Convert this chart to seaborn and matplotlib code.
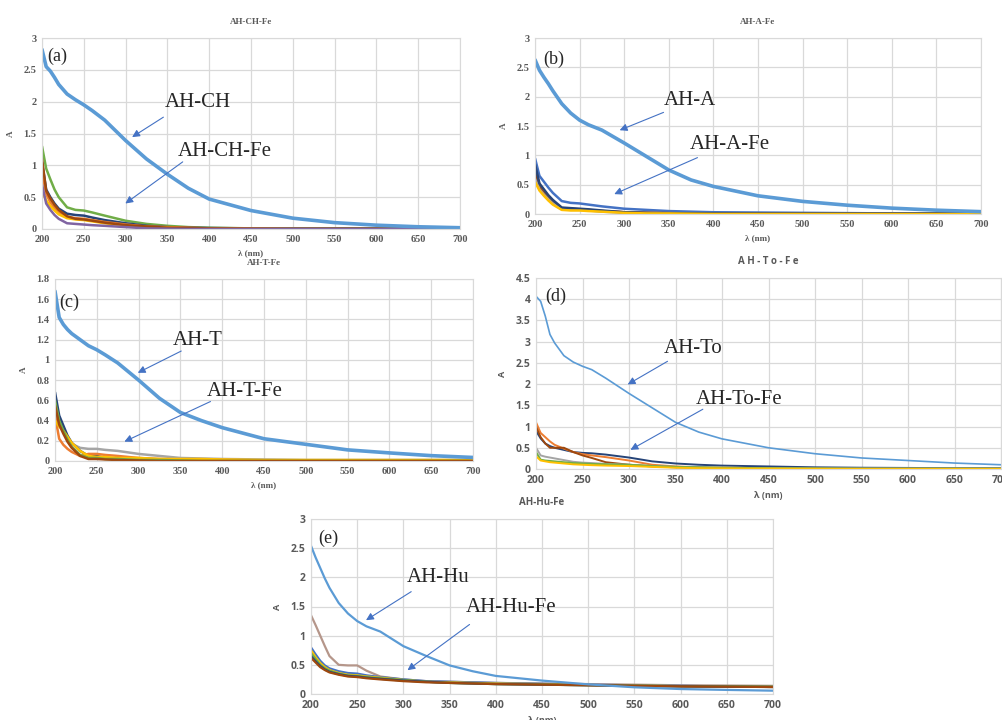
import numpy as np
import pandas as pd
import seaborn as sns
import matplotlib.pyplot as plt
from matplotlib.ticker import FuncFormatter, MultipleLocator

# wavelengths (nm) shared by every spectrum
wl = [200, 205, 210, 215, 220, 230, 240, 250, 260, 275, 300,
      325, 350, 375, 400, 450, 500, 550, 600, 650, 700]

# excel-ish colours
c_ref = "#5B9BD5"
fe_colors = ["#70AD47", "#264478", "#ED7D31", "#FFC000", "#9E480E", "#8064A2"]

# (a) AH-CH / AH-CH-Fe
ah_ch = [2.82, 2.55, 2.48, 2.38, 2.27, 2.12, 2.03, 1.95, 1.86, 1.71, 1.39,
         1.10, 0.86, 0.64, 0.47, 0.29, 0.17, 0.10, 0.06, 0.035, 0.02]
ah_ch_fe = [
    [1.30, 0.95, 0.78, 0.62, 0.50, 0.34, 0.30, 0.29, 0.26, 0.21, 0.13, 0.08, 0.05, 0.03, 0.02, 0.01, 0.01, 0.01, 0.01, 0.01, 0.01],
    [1.05, 0.62, 0.50, 0.40, 0.32, 0.24, 0.22, 0.21, 0.18, 0.14, 0.09, 0.05, 0.03, 0.02, 0.015, 0.01, 0.01, 0.01, 0.01, 0.01, 0.01],
    [0.90, 0.55, 0.42, 0.33, 0.26, 0.19, 0.17, 0.16, 0.14, 0.11, 0.07, 0.04, 0.03, 0.02, 0.01, 0.005, 0.0, 0.0, 0.0, 0.0, 0.0],
    [0.60, 0.45, 0.36, 0.29, 0.23, 0.17, 0.15, 0.14, 0.12, 0.09, 0.05, 0.03, 0.02, 0.01, 0.005, 0.0, 0.0, 0.0, 0.0, 0.0, 0.0],
    [1.10, 0.60, 0.48, 0.38, 0.30, 0.20, 0.16, 0.15, 0.13, 0.10, 0.06, 0.04, 0.02, 0.015, 0.01, 0.005, 0.0, 0.0, 0.0, 0.0, 0.0],
    [0.70, 0.40, 0.30, 0.22, 0.16, 0.09, 0.08, 0.07, 0.06, 0.05, 0.03, 0.01, 0.005, 0.0, 0.0, 0.0, 0.0, 0.0, 0.0, 0.0, 0.0],
]

# (b) AH-A / AH-A-Fe
ah_a = [2.63, 2.45, 2.33, 2.22, 2.10, 1.88, 1.72, 1.60, 1.52, 1.43, 1.21,
        0.98, 0.75, 0.58, 0.47, 0.31, 0.215, 0.15, 0.10, 0.065, 0.04]
ah_a_fe = [
    [0.95, 0.65, 0.55, 0.45, 0.36, 0.22, 0.19, 0.18, 0.16, 0.13, 0.09, 0.07, 0.05, 0.04, 0.03, 0.025, 0.02, 0.015, 0.01, 0.01, 0.01],
    [0.80, 0.50, 0.40, 0.30, 0.22, 0.10, 0.09, 0.08, 0.07, 0.05, 0.03, 0.02, 0.015, 0.01, 0.01, 0.005, 0.0, 0.0, 0.0, 0.0, 0.0],
    [0.70, 0.45, 0.36, 0.27, 0.20, 0.09, 0.08, 0.08, 0.06, 0.05, 0.03, 0.02, 0.01, 0.01, 0.005, 0.0, 0.0, 0.0, 0.0, 0.0, 0.0],
    [0.60, 0.42, 0.33, 0.25, 0.18, 0.08, 0.07, 0.07, 0.06, 0.04, 0.02, 0.015, 0.01, 0.01, 0.005, 0.0, 0.0, 0.0, 0.0, 0.0, 0.0],
    [0.85, 0.52, 0.42, 0.32, 0.24, 0.11, 0.10, 0.09, 0.08, 0.06, 0.03, 0.02, 0.015, 0.012, 0.01, 0.01, 0.01, 0.01, 0.01, 0.01, 0.01],
    [0.55, 0.40, 0.31, 0.23, 0.16, 0.07, 0.06, 0.06, 0.05, 0.04, 0.02, 0.01, 0.01, 0.005, 0.0, 0.0, 0.0, 0.0, 0.0, 0.0, 0.0],
]
a_fe_colors = ["#4472C4", "#ED7D31", "#9E480E", "#A5A5A5", "#264478", "#FFC000"]

# (c) AH-T / AH-T-Fe
ah_t = [1.68, 1.42, 1.35, 1.30, 1.26, 1.20, 1.14, 1.10, 1.05, 0.97, 0.80,
        0.62, 0.48, 0.40, 0.33, 0.22, 0.165, 0.11, 0.08, 0.053, 0.035]
ah_t_fe = [
    [0.45, 0.38, 0.30, 0.22, 0.17, 0.13, 0.12, 0.12, 0.11, 0.10, 0.07, 0.05, 0.03, 0.025, 0.02, 0.015, 0.01, 0.01, 0.01, 0.01, 0.01],
    [0.68, 0.45, 0.35, 0.25, 0.18, 0.10, 0.05, 0.05, 0.03, 0.02, 0.01, 0.01, 0.005, 0.0, 0.0, 0.0, 0.0, 0.0, 0.0, 0.0, 0.0],
    [0.45, 0.22, 0.16, 0.12, 0.09, 0.05, 0.07, 0.07, 0.06, 0.05, 0.03, 0.02, 0.015, 0.01, 0.01, 0.005, 0.0, 0.0, 0.0, 0.0, 0.0],
    [0.40, 0.34, 0.30, 0.24, 0.18, 0.10, 0.05, 0.04, 0.04, 0.03, 0.03, 0.02, 0.02, 0.02, 0.015, 0.01, 0.01, 0.01, 0.01, 0.01, 0.01],
    [0.60, 0.40, 0.30, 0.21, 0.14, 0.06, 0.03, 0.03, 0.02, 0.02, 0.01, 0.01, 0.005, 0.0, 0.0, 0.0, 0.0, 0.0, 0.0, 0.0, 0.0],
    [0.55, 0.36, 0.27, 0.19, 0.13, 0.05, 0.02, 0.02, 0.015, 0.01, 0.005, 0.0, 0.0, 0.0, 0.0, 0.0, 0.0, 0.0, 0.0, 0.0, 0.0],
]
t_fe_colors = ["#A5A5A5", "#264478", "#ED7D31", "#FFC000", "#70AD47", "#9E480E"]

# (d) AH-To / AH-To-Fe
ah_to = [4.07, 3.95, 3.60, 3.17, 2.97, 2.67, 2.52, 2.42, 2.34, 2.14, 1.78,
         1.44, 1.10, 0.87, 0.71, 0.50, 0.36, 0.26, 0.20, 0.14, 0.10]
ah_to_fe = [
    [0.90, 0.72, 0.60, 0.54, 0.50, 0.45, 0.40, 0.38, 0.37, 0.34, 0.27, 0.18, 0.13, 0.10, 0.08, 0.06, 0.04, 0.03, 0.025, 0.02, 0.02],
    [1.10, 0.85, 0.75, 0.65, 0.57, 0.48, 0.40, 0.35, 0.32, 0.28, 0.20, 0.10, 0.06, 0.04, 0.03, 0.02, 0.01, 0.01, 0.01, 0.01, 0.01],
    [1.00, 0.75, 0.60, 0.50, 0.50, 0.50, 0.40, 0.32, 0.26, 0.16, 0.10, 0.06, 0.04, 0.03, 0.02, 0.01, 0.005, 0.0, 0.0, 0.0, 0.0],
    [0.50, 0.32, 0.29, 0.27, 0.25, 0.21, 0.17, 0.15, 0.14, 0.12, 0.10, 0.07, 0.05, 0.04, 0.03, 0.02, 0.01, 0.01, 0.01, 0.01, 0.01],
    [0.40, 0.22, 0.20, 0.19, 0.18, 0.16, 0.14, 0.13, 0.12, 0.11, 0.10, 0.07, 0.05, 0.04, 0.03, 0.02, 0.015, 0.01, 0.01, 0.01, 0.01],
    [0.30, 0.20, 0.18, 0.16, 0.15, 0.13, 0.11, 0.10, 0.09, 0.08, 0.07, 0.05, 0.03, 0.02, 0.015, 0.01, 0.005, 0.0, 0.0, 0.0, 0.0],
]
to_fe_colors = ["#264478", "#ED7D31", "#9E480E", "#A5A5A5", "#70AD47", "#FFC000"]

# (e) AH-Hu / AH-Hu-Fe
ah_hu = [2.54, 2.34, 2.16, 1.98, 1.82, 1.56, 1.38, 1.25, 1.16, 1.07, 0.82,
         0.65, 0.49, 0.39, 0.31, 0.23, 0.165, 0.115, 0.085, 0.07, 0.057]
ah_hu_fe = [
    [1.35, 1.18, 1.00, 0.82, 0.65, 0.50, 0.49, 0.49, 0.40, 0.30, 0.25, 0.22, 0.21, 0.20, 0.19, 0.18, 0.17, 0.16, 0.15, 0.145, 0.14],
    [0.80, 0.68, 0.57, 0.49, 0.44, 0.39, 0.36, 0.35, 0.32, 0.29, 0.25, 0.22, 0.21, 0.20, 0.19, 0.175, 0.16, 0.15, 0.14, 0.13, 0.12],
    [0.75, 0.63, 0.53, 0.46, 0.41, 0.36, 0.33, 0.32, 0.30, 0.28, 0.24, 0.21, 0.20, 0.19, 0.18, 0.17, 0.155, 0.145, 0.135, 0.13, 0.12],
    [0.70, 0.60, 0.50, 0.44, 0.40, 0.35, 0.32, 0.31, 0.29, 0.27, 0.24, 0.21, 0.19, 0.18, 0.17, 0.16, 0.15, 0.14, 0.135, 0.13, 0.125],
    [0.65, 0.56, 0.48, 0.42, 0.38, 0.34, 0.31, 0.30, 0.28, 0.26, 0.23, 0.21, 0.19, 0.18, 0.17, 0.16, 0.15, 0.14, 0.13, 0.125, 0.12],
    [0.62, 0.54, 0.46, 0.41, 0.37, 0.33, 0.30, 0.29, 0.27, 0.25, 0.22, 0.20, 0.19, 0.18, 0.17, 0.16, 0.15, 0.14, 0.13, 0.125, 0.12],
]
hu_fe_colors = ["#B5968A", "#4472C4", "#FFC000", "#70AD47", "#264478", "#9E480E"]

W, H = 1002, 720
fig = plt.figure(figsize=(W / 100, H / 100), dpi=100)


def px_rect(l, t, r, b):
    return [l / W, 1 - b / H, (r - l) / W, (b - t) / H]


def panel(rect, ref, fes, cols, ymax, ystep, title, letter, ref_lab, fe_lab,
          arr_ref, arr_fe, serif=True, ref_lw=2.6, fe_lw=1.8, let_pos=(0.015, 0.95)):
    ax = fig.add_axes(px_rect(*rect))
    rows = []
    for i, ys in enumerate(fes):
        for x, y in zip(wl, ys):
            rows.append((x, y, f"fe{i}"))
    df = pd.DataFrame(rows, columns=["wl", "A", "s"])
    sns.lineplot(data=df, x="wl", y="A", hue="s", palette=cols[:len(fes)],
                 legend=False, lw=fe_lw, ax=ax, sort=False)
    sns.lineplot(x=wl, y=ref, color=c_ref, lw=ref_lw, ax=ax)
    ax.set_xlim(200, 700)
    ax.set_ylim(0, ymax)
    ax.xaxis.set_major_locator(MultipleLocator(50))
    ax.yaxis.set_major_locator(MultipleLocator(ystep))
    ax.yaxis.set_major_formatter(FuncFormatter(lambda v, p: f"{v:g}"))
    ax.grid(True, color="#D9D9D9", lw=0.9)
    ax.set_axisbelow(True)
    for s in ax.spines.values():
        s.set_color("#D9D9D9")
    fam = "Liberation Serif" if serif else "Open Sans"
    tsize = 7.5 if serif else 7.5
    ax.tick_params(length=0, pad=4, colors="#595959", labelsize=tsize)
    for lab in ax.get_xticklabels() + ax.get_yticklabels():
        lab.set_fontfamily(fam)
        lab.set_fontweight("bold")
    ax.set_xlabel("λ (nm)", fontsize=6.5, color="#595959", family=fam,
                  fontweight="bold", labelpad=4)
    ax.set_ylabel("A", fontsize=6.5, color="#595959", family=fam,
                  fontweight="bold", labelpad=6)
    ax.set_title(title, fontsize=6.5 if serif else 7, color="#595959", family=fam,
                 fontweight="bold", pad=10)
    ax.text(let_pos[0], let_pos[1], letter, transform=ax.transAxes, va="top",
            ha="left", fontsize=13, family="Liberation Serif")
    for lab, (tx, ty, hx, hy, lx, ly) in ((ref_lab, arr_ref), (fe_lab, arr_fe)):
        ax.text(lx, ly, lab, fontsize=15, family="Liberation Serif",
                ha="left", va="baseline")
        ax.annotate("", xy=(hx, hy), xytext=(tx, ty),
                    arrowprops=dict(arrowstyle="-|>", color="#4472C4",
                                    lw=0.8, mutation_scale=11))
    return ax


sns.set_style("white")

panel((42, 38, 460, 229), ah_ch, ah_ch_fe, fe_colors, 3, 0.5, "AH-CH-Fe", "(a)",
      "AH-CH", "AH-CH-Fe",
      (348, 1.78, 305, 1.42, 347, 1.91), (371, 1.08, 297, 0.375, 363, 1.14),
      let_pos=(0.012, 0.95))
panel((535, 38, 981, 214), ah_a, ah_a_fe, a_fe_colors,
      3, 0.5, "AH-A-Fe", "(b)", "AH-A", "AH-A-Fe",
      (347, 1.75, 292, 1.41, 344, 1.85), (385, 0.98, 286, 0.32, 374, 1.10),
      let_pos=(0.018, 0.93))
panel((55, 279, 473, 461), ah_t, ah_t_fe, t_fe_colors,
      1.8, 0.2, "AH-T-Fe", "(c)", "AH-T", "AH-T-Fe",
      (354, 1.10, 296, 0.86, 341, 1.15), (389, 0.60, 280, 0.18, 382, 0.645),
      let_pos=(0.01, 0.92))
panel((536, 278, 1001, 469), ah_to, ah_to_fe, to_fe_colors, 4.5, 0.5,
      "A H - T o - F e", "(d)", "AH-To", "AH-To-Fe",
      (344, 2.57, 296, 1.96, 337, 2.73), (382, 1.44, 299, 0.42, 372, 1.53),
      serif=False, ref_lw=1.2, fe_lw=1.4, let_pos=(0.02, 0.95))
panel((311, 519, 773, 694), ah_hu, ah_hu_fe, hu_fe_colors, 3, 0.5,
      "AH-Hu-Fe", "(e)", "AH-Hu", "AH-Hu-Fe",
      (311, 1.78, 257, 1.24, 304, 1.92), (374, 1.22, 302, 0.38, 367, 1.41),
      serif=False, ref_lw=1.6, fe_lw=1.6, let_pos=(0.015, 0.94))

fig.savefig("out.png", dpi=100)
